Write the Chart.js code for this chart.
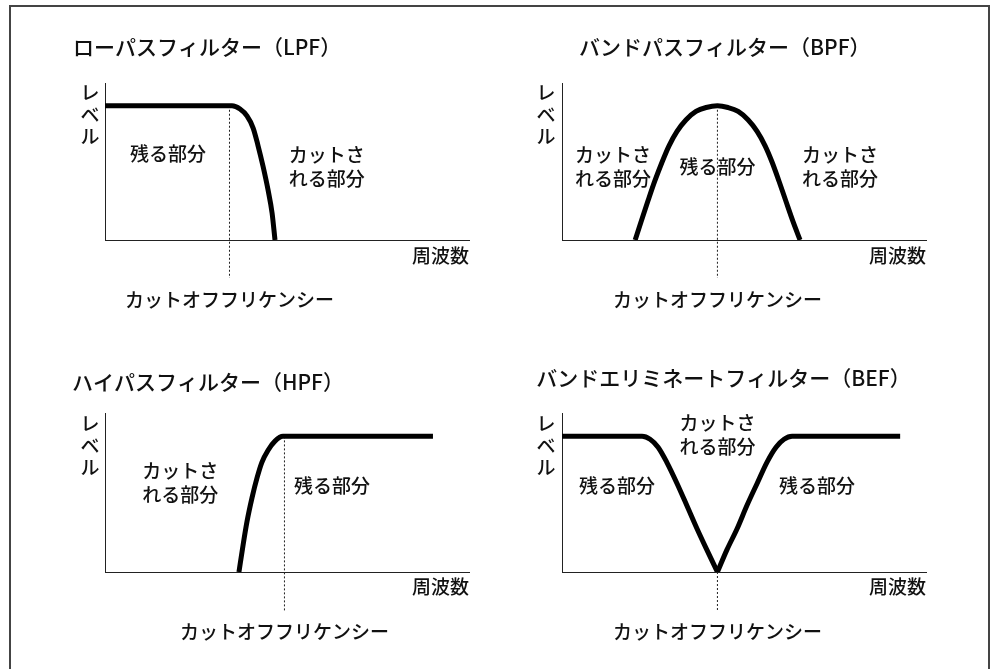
<!DOCTYPE html>
<html lang="ja">
<head>
<meta charset="utf-8">
<title>フィルターの種類</title>
<script src="https://cdn.jsdelivr.net/npm/chart.js@4.4.0/dist/chart.umd.min.js"></script>
<style>
  html, body { margin: 0; padding: 0; background: #fff; }
  #wrap { position: relative; width: 992px; height: 669px; overflow: hidden; }
  #frame { position: absolute; left: 9px; top: 5px; width: 981px; height: 720px;
           box-sizing: border-box; border: 2px solid #444; }
  canvas { position: absolute; }
</style>
</head>
<body>
<div id="wrap">
  <div id="frame"></div>
  <canvas id="lpf" width="496" height="335" style="left:0;top:0"></canvas>
  <canvas id="bpf" width="496" height="335" style="left:496px;top:0"></canvas>
  <canvas id="hpf" width="496" height="334" style="left:0;top:335px"></canvas>
  <canvas id="bef" width="496" height="334" style="left:496px;top:335px"></canvas>
</div>
<script>
(function () {
    'use strict';

    // -----------------------------------------------------------------------
    // Data (x = frequency, y = level, both 0..100 on the axes)
    // -----------------------------------------------------------------------
    const LPF_X = [0, 34.9, 37.1, 39.0, 40.7, 42.0, 43.4, 44.8, 45.9, 46.7];
    const LPF_Y = [85.5, 85.5, 83.4, 79.0, 71.3, 60.5, 47.1, 31.8, 17.2, 0];

    const BPF_X = [20.1, 21.7, 23.6, 25.5, 27.5, 29.4, 31.6, 34.1, 36.8, 39.6, 42.7,
                   45.6, 48.4, 51.1, 53.6, 55.8, 57.7, 59.6, 61.5, 63.5, 65.4];
    const BPF_Y = [0, 11.5, 24.8, 37.6, 49.7, 60.0, 69.2, 76.6, 81.9, 84.4, 85.5,
                   84.4, 81.9, 76.6, 69.2, 60.0, 49.7, 37.6, 24.8, 11.5, 0];

    const HPF_X = [36.8, 37.9, 39.0, 40.4, 41.8, 43.1, 44.8, 46.7, 48.9, 90.1];
    const HPF_Y = [0, 16.5, 31.6, 46.8, 59.5, 69.0, 76.6, 82.3, 85.3, 85.3];

    const BEF_LEFT_X  = [0, 22.0, 24.2, 26.4, 28.8, 31.6, 34.3, 37.1, 39.8, 42.7];
    const BEF_LEFT_Y  = [85.4, 85.4, 83.5, 78.5, 69.0, 55.7, 41.8, 27.2, 13.9, 0];
    const BEF_RIGHT_X = [42.7, 45.3, 48.1, 50.8, 53.6, 56.3, 58.8, 61.0, 63.2, 92.9];
    const BEF_RIGHT_Y = [0, 13.9, 27.2, 41.8, 55.7, 69.0, 78.5, 83.5, 85.4, 85.4];

    // cutoff frequency per panel: [x, top level, bottom level]
    const CUT_LPF = [34.2, 85.5, -24.2];
    const CUT_BPF = [42.7, 85.5, -24.2];
    const CUT_HPF = [49.3, 85.3, -24.7];
    const CUT_BEF = [42.7, 0, -24.7];

    // Text
    const TITLES = [
        'ローパスフィルター（LPF）',
        'バンドパスフィルター（BPF）',
        'ハイパスフィルター（HPF）',
        'バンドエリミネートフィルター（BEF）'
    ];
    const Y_NAME = ['レ', 'ベ', 'ル'];
    const X_NAME = '周波数';
    const CUT_NAME = 'カットオフフリケンシー';
    const KEEP = ['残る部分'];
    const CUTOFF_PART = ['カットさ', 'れる部分'];

    const FONT = '"Noto Sans CJK JP", "Noto Sans", sans-serif';
    const INK = '#111';

    // -----------------------------------------------------------------------
    // Helpers
    // -----------------------------------------------------------------------
    function points(xs, ys) {
        return xs.map(function (v, i) { return { x: v, y: ys[i] }; });
    }

    function curve(xs, ys) {
        return {
            data: points(xs, ys),
            borderColor: '#000',
            borderWidth: 5,
            pointRadius: 0,
            cubicInterpolationMode: 'monotone',
            borderJoinStyle: 'round',
            clip: 0,
        };
    }

    function cutLine(c) {
        return {
            data: [{ x: c[0], y: c[1] }, { x: c[0], y: c[2] }],
            borderColor: '#222',
            borderWidth: 1,
            borderDash: [2, 2],
            pointRadius: 0,
            clip: false,
        };
    }

    // draws titles and annotations at positions given in axis units
    const textPlugin = {
        id: 'panelText',
        afterDraw: function (chart, args, opts) {
            const ctx = chart.ctx;
            const xs = chart.scales.x;
            const ys = chart.scales.y;
            ctx.save();
            ctx.fillStyle = INK;
            ctx.textBaseline = 'middle';
            (opts.items || []).forEach(function (t) {
                ctx.font = '500 ' + (t.size || 19) + 'px ' + FONT;
                ctx.textAlign = t.align || 'left';
                const px = xs.getPixelForValue(t.x);
                let py = ys.getPixelForValue(t.y);
                t.lines.forEach(function (line) {
                    ctx.fillText(line, px, py);
                    py += t.lh || 24;
                });
            });
            ctx.restore();
        },
    };

    function makeChart(id, datasets, pad, items) {
        const axis = {
            type: 'linear',
            min: 0,
            max: 100,
            ticks: { display: false },
            grid: { display: false, drawTicks: false },
            border: { display: true, color: '#222', width: 1 },
        };
        return new Chart(document.getElementById(id), {
            type: 'line',
            data: { datasets: datasets },
            options: {
                responsive: false,
                animation: false,
                events: [],
                layout: { padding: pad },
                plugins: {
                    legend: { display: false },
                    tooltip: { enabled: false },
                    panelText: { items: items },
                },
                scales: {
                    x: Object.assign({}, axis, { afterFit: function (s) { s.height = 0; } }),
                    y: Object.assign({}, axis, { afterFit: function (s) { s.width = 0; } }),
                },
            },
            plugins: [textPlugin],
        });
    }

    // -----------------------------------------------------------------------
    // Panels
    // -----------------------------------------------------------------------
    makeChart('lpf',
        [curve(LPF_X, LPF_Y), cutLine(CUT_LPF)],
        { left: 105, right: 27, top: 83, bottom: 95 },
        [
            { lines: [TITLES[0]], x: -8.8, y: 122.9, size: 21 },
            { lines: Y_NAME, x: -4.1, y: 93.5, align: 'center', lh: 22 },
            { lines: KEEP, x: 6.9, y: 54.8 },
            { lines: CUTOFF_PART, x: 50.5, y: 54.1 },
            { lines: [X_NAME], x: 100, y: -10.2, align: 'right' },
            { lines: [CUT_NAME], x: CUT_LPF[0], y: -38.2, align: 'center' },
        ]);

    makeChart('bpf',
        [curve(BPF_X, BPF_Y), cutLine(CUT_BPF)],
        { left: 66, right: 66, top: 83, bottom: 95 },
        [
            { lines: [TITLES[1]], x: 4.7, y: 122.9, size: 21 },
            { lines: Y_NAME, x: -4.4, y: 93.5, align: 'center', lh: 22 },
            { lines: CUTOFF_PART, x: 3.6, y: 54.1 },
            { lines: KEEP, x: CUT_BPF[0], y: 46.5, align: 'center' },
            { lines: CUTOFF_PART, x: 65.9, y: 54.1 },
            { lines: [X_NAME], x: 100, y: -10.2, align: 'right' },
            { lines: [CUT_NAME], x: CUT_BPF[0], y: -38.2, align: 'center' },
        ]);

    makeChart('hpf',
        [curve(HPF_X, HPF_Y), cutLine(CUT_HPF)],
        { left: 105, right: 27, top: 78, bottom: 97 },
        [
            { lines: [TITLES[2]], x: -9.1, y: 119.6, size: 21 },
            { lines: Y_NAME, x: -4.1, y: 93.0, align: 'center', lh: 22 },
            { lines: CUTOFF_PART, x: 10.2, y: 63.9 },
            { lines: KEEP, x: 51.9, y: 54.4 },
            { lines: [X_NAME], x: 100, y: -9.5, align: 'right' },
            { lines: [CUT_NAME], x: CUT_HPF[0], y: -37.3, align: 'center' },
        ]);

    makeChart('bef',
        [curve(BEF_LEFT_X, BEF_LEFT_Y), curve(BEF_RIGHT_X, BEF_RIGHT_Y), cutLine(CUT_BEF)],
        { left: 66, right: 66, top: 78, bottom: 97 },
        [
            { lines: [TITLES[3]], x: -7.1, y: 122.2, size: 21 },
            { lines: Y_NAME, x: -4.4, y: 93.0, align: 'center', lh: 22 },
            { lines: CUTOFF_PART, x: CUT_BEF[0], y: 93.7, align: 'center' },
            { lines: KEEP, x: 4.7, y: 54.4 },
            { lines: KEEP, x: 59.6, y: 54.4 },
            { lines: [X_NAME], x: 100, y: -9.5, align: 'right' },
            { lines: [CUT_NAME], x: CUT_BEF[0], y: -37.3, align: 'center' },
        ]);
})();
</script>
</body>
</html>
